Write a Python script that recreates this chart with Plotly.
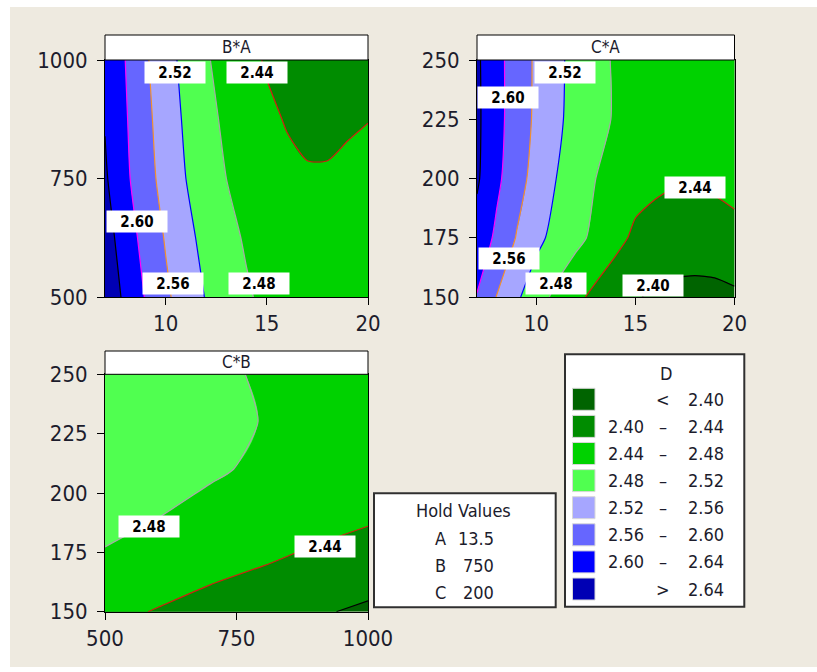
import plotly.graph_objects as go

# ---------------- data ----------------
A_vals = [7, 8, 9, 10, 11, 12, 13, 14, 15, 16, 17, 18, 19, 20]

# panel B*A  (rows = B, columns = A), C held at 200
B_rows = [500, 625, 750, 875, 1000]
z_BA = [
    [2.670, 2.632, 2.598, 2.567, 2.541, 2.518, 2.499, 2.484, 2.472, 2.465, 2.461, 2.461, 2.465, 2.472],
    [2.658, 2.620, 2.587, 2.557, 2.531, 2.508, 2.490, 2.476, 2.463, 2.456, 2.452, 2.452, 2.456, 2.463],
    [2.645, 2.608, 2.575, 2.546, 2.520, 2.498, 2.480, 2.465, 2.454, 2.447, 2.443, 2.443, 2.447, 2.454],
    [2.638, 2.604, 2.570, 2.541, 2.514, 2.491, 2.473, 2.457, 2.446, 2.438, 2.433, 2.433, 2.436, 2.439],
    [2.638, 2.600, 2.565, 2.535, 2.508, 2.484, 2.465, 2.449, 2.437, 2.428, 2.423, 2.422, 2.425, 2.431],
]

# panel C*A  (rows = C, columns = A), B held at 750
C_rows = [150, 175, 200, 225, 250]
z_CA = [
    [2.598, 2.5585, 2.526, 2.497, 2.471, 2.449, 2.430, 2.415, 2.403, 2.394, 2.389, 2.3875, 2.389, 2.394],
    [2.626, 2.592, 2.558, 2.530, 2.508, 2.490, 2.471, 2.451, 2.433, 2.427, 2.423, 2.422, 2.423, 2.427],
    [2.645, 2.608, 2.575, 2.546, 2.520, 2.498, 2.480, 2.465, 2.454, 2.447, 2.443, 2.443, 2.447, 2.454],
    [2.647, 2.612, 2.581, 2.553, 2.528, 2.506, 2.491, 2.4765, 2.463, 2.454, 2.449, 2.447, 2.449, 2.454],
    [2.646, 2.612, 2.581, 2.554, 2.529, 2.508, 2.4905, 2.476, 2.4646, 2.4565, 2.4516, 2.450, 2.4516, 2.4565],
]

# panel C*B  (rows = C, columns = B), A held at 13.5
B_cols = [500, 600, 700, 800, 900, 1000]
C_rows3 = [150, 170, 190, 210, 230, 250]
z_CB = [
    [2.449, 2.438, 2.427, 2.4155, 2.404, 2.394],
    [2.476, 2.461, 2.450, 2.441, 2.431, 2.420],
    [2.487, 2.4805, 2.471, 2.462, 2.453, 2.445],
    [2.497, 2.491, 2.484, 2.475, 2.467, 2.459],
    [2.500, 2.496, 2.490, 2.479, 2.470, 2.462],
    [2.502, 2.497, 2.488, 2.476, 2.467, 2.460],
]

levels = [2.40, 2.44, 2.48, 2.52, 2.56, 2.60, 2.64]
fill_colors = ["#006400", "#008C00", "#00D200", "#50FF50",
               "#A6A6FF", "#6666FF", "#0000FF", "#0000B4"]
line_colors = ["#000000", "#D02010", "#A8A8A8", "#0000FF",
               "#F09030", "#FF00FF", "#000000"]

panel_titles = ["B*A", "C*A", "C*B"]
hold_names = ["A", "B", "C"]
hold_values = ["13.5", "750", "200"]
legend_title = "D"

# contour label texts per panel
labels_BA = ["2.52", "2.44", "2.60", "2.56", "2.48"]
labels_CA = ["2.52", "2.60", "2.56", "2.48", "2.40", "2.44"]
labels_CB = ["2.48", "2.44"]

# ---------------- layout helpers ----------------
W, H = 817, 672
BEIGE = "#EEEAE0"
FONT = "DejaVu Sans Condensed, DejaVu Sans, sans-serif"
TXT = "#1c1c2c"


def fx(px):
    return px / W


def fy(py):
    return 1 - py / H


step = levels[1] - levels[0]
fill_scale = [[k / (len(fill_colors) - 1), c] for k, c in enumerate(fill_colors)]
line_scale = [[k / (len(line_colors) - 1), c] for k, c in enumerate(line_colors)]

panels = [
    dict(x=A_vals, y=B_rows, z=z_BA, xr=[7, 20], yr=[500, 1000], xt=[10, 15, 20],
         yt=[500, 750, 1000], box=(105, 368, 60, 297), head=35, title=panel_titles[0],
         labels=labels_BA,
         lpos=[(10.47, 973), (14.52, 973), (8.58, 660), (10.37, 529), (14.6, 529)]),
    dict(x=A_vals, y=C_rows, z=z_CA, xr=[7, 20], yr=[150, 250], xt=[10, 15, 20],
         yt=[150, 175, 200, 225, 250], box=(477, 734.5, 60, 297), head=35, title=panel_titles[1],
         labels=labels_CA,
         lpos=[(11.43, 244.9), (8.56, 234), (8.6, 166.4), (10.99, 155.8), (15.9, 155), (18.0, 196.1)]),
    dict(x=B_cols, y=C_rows3, z=z_CB, xr=[500, 1000], yr=[150, 250], xt=[500, 750, 1000],
         yt=[150, 175, 200, 225, 250], box=(105, 368, 374.3, 611.7), head=351, title=panel_titles[2],
         labels=labels_CB,
         lpos=[(583, 185.8), (918, 177.5)]),
]

fig = go.Figure()
shapes = []
annotations = []

# page background
shapes.append(dict(type="rect", xref="paper", yref="paper", x0=fx(10), x1=1.0,
                   y0=fy(667), y1=fy(7), fillcolor=BEIGE, line=dict(width=0), layer="below"))

layout_axes = {}
for i, p in enumerate(panels, start=1):
    xa = "x" if i == 1 else f"x{i}"
    ya = "y" if i == 1 else f"y{i}"
    fig.add_trace(go.Contour(
        x=p["x"], y=p["y"], z=p["z"], xaxis=xa, yaxis=ya,
        contours=dict(start=levels[0], end=levels[-1], size=step,
                      coloring="fill", showlines=False),
        colorscale=fill_scale, showscale=False, line=dict(width=0),
        hoverinfo="skip"))
    fig.add_trace(go.Contour(
        x=p["x"], y=p["y"], z=p["z"], xaxis=xa, yaxis=ya,
        contours=dict(start=levels[0], end=levels[-1], size=step, coloring="lines"),
        colorscale=line_scale, showscale=False, line=dict(width=1.2, smoothing=0.6),
        hoverinfo="skip"))
    x0, x1, y0, y1 = p["box"]
    axcommon = dict(ticks="outside", ticklen=7, tickwidth=1, tickcolor="black",
                    showline=True, linecolor="black", linewidth=1, mirror=True,
                    showgrid=False, zeroline=False, automargin=False,
                    tickfont=dict(family=FONT, size=22, color=TXT))
    layout_axes["xaxis" if i == 1 else f"xaxis{i}"] = dict(
        domain=[fx(x0), fx(x1)], range=p["xr"], tickvals=p["xt"], anchor=ya, **axcommon)
    layout_axes["yaxis" if i == 1 else f"yaxis{i}"] = dict(
        domain=[fy(y1), fy(y0)], range=p["yr"], tickvals=p["yt"], anchor=xa,
        ticklabelstandoff=5, **axcommon)
    # header strip
    shapes.append(dict(type="rect", xref="paper", yref="paper", x0=fx(x0), x1=fx(x1),
                       y0=fy(y0), y1=fy(p["head"]), fillcolor="white",
                       line=dict(color="black", width=1)))
    annotations.append(dict(xref="paper", yref="paper", x=fx((x0 + x1) / 2),
                            y=fy((y0 + p["head"]) / 2 - 1), text=p["title"], showarrow=False,
                            xanchor="center", yanchor="middle",
                            font=dict(family=FONT, size=17, color=TXT)))
    # contour labels
    for txt, (lx, ly) in zip(p["labels"], p["lpos"]):
        annotations.append(dict(xref=xa, yref=ya, x=lx, y=ly, text=f"<b>{txt}</b>",
                                showarrow=False, xanchor="center", yanchor="middle",
                                bgcolor="white", width=58, height=19, borderpad=1,
                                font=dict(family=FONT, size=15, color="black")))

# Hold values box
shapes.append(dict(type="rect", xref="paper", yref="paper", x0=fx(374), x1=fx(555.7),
                   y0=fy(607.3), y1=fy(493.3), fillcolor="white",
                   line=dict(color="#303030", width=2)))
annotations.append(dict(xref="paper", yref="paper", x=fx(463), y=fy(510),
                        text="Hold Values", showarrow=False, xanchor="center",
                        yanchor="middle", font=dict(family=FONT, size=18, color=TXT)))
for k, (nm, val) in enumerate(zip(hold_names, hold_values)):
    yy = 538 + 27 * k
    annotations.append(dict(xref="paper", yref="paper", x=fx(440), y=fy(yy), text=nm,
                            showarrow=False, xanchor="center", yanchor="middle",
                            font=dict(family=FONT, size=18, color=TXT)))
    annotations.append(dict(xref="paper", yref="paper", x=fx(496), y=fy(yy), text=val,
                            showarrow=False, xanchor="right", yanchor="middle",
                            font=dict(family=FONT, size=18, color=TXT)))

# Legend box
shapes.append(dict(type="rect", xref="paper", yref="paper", x0=fx(565), x1=fx(744.3),
                   y0=fy(606.7), y1=fy(354.3), fillcolor="white",
                   line=dict(color="#303030", width=2)))
annotations.append(dict(xref="paper", yref="paper", x=fx(666), y=fy(373),
                        text=legend_title, showarrow=False, xanchor="center",
                        yanchor="middle", font=dict(family=FONT, size=18, color=TXT)))
for k, col in enumerate(fill_colors):
    top = 388.3 + 27.1 * k
    shapes.append(dict(type="rect", xref="paper", yref="paper", x0=fx(572.5), x1=fx(595),
                       y0=fy(top + 22), y1=fy(top), fillcolor=col,
                       line=dict(color="#d8d8d8", width=1)))
    yc = top + 11
    if k == 0:
        lo, mid, hi = "", "<", f"{levels[0]:.2f}"
    elif k == len(fill_colors) - 1:
        lo, mid, hi = "", ">", f"{levels[-1]:.2f}"
    else:
        lo, mid, hi = f"{levels[k - 1]:.2f}", "–", f"{levels[k]:.2f}"
    for txt, xx, anc in ((lo, 646, "right"), (mid, 663, "center"), (hi, 726, "right")):
        if txt:
            annotations.append(dict(xref="paper", yref="paper", x=fx(xx), y=fy(yc),
                                    text=txt, showarrow=False, xanchor=anc,
                                    yanchor="middle",
                                    font=dict(family=FONT, size=18, color=TXT)))

fig.update_layout(
    width=W, height=H, margin=dict(l=0, r=0, t=0, b=0, pad=0, autoexpand=False),
    paper_bgcolor="white", plot_bgcolor=BEIGE, showlegend=False,
    shapes=shapes, annotations=annotations, **layout_axes)

fig.write_html("out.html")
